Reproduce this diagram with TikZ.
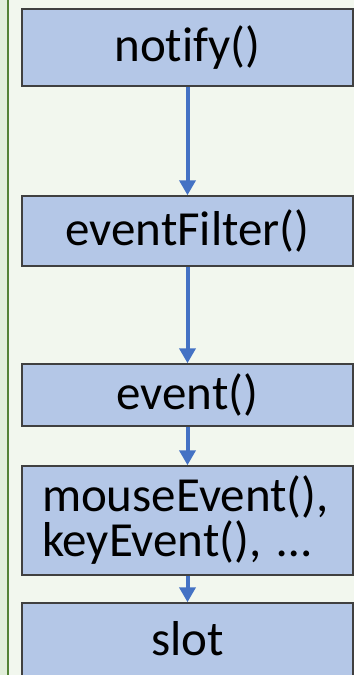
\documentclass[tikz,border=0pt]{standalone}
\usepackage{fontspec}
\setmainfont{Carlito}[Ligatures=NoCommon]
\usetikzlibrary{arrows.meta}
\definecolor{panelbg}{RGB}{242,247,238}
\definecolor{bandbg}{RGB}{226,239,218}
\definecolor{bandline}{RGB}{84,130,53}
\definecolor{boxfill}{RGB}{180,199,231}
\definecolor{boxline}{RGB}{64,64,64}
\definecolor{flow}{RGB}{68,114,196}
\tikzset{
  callbox/.style={draw=boxline, line width=1.5pt, fill=boxfill, minimum width=331pt,
    inner sep=0pt, font=\fontsize{49}{45}\selectfont},
  boxtext/.style={inner sep=0pt, font=\fontsize{49}{45}\selectfont},
  flowarrow/.style={draw=flow, line width=4pt, -{Triangle[width=16pt,length=15pt]}}
}
\begin{document}
\begin{tikzpicture}[x=1pt,y=-1pt]
  \useasboundingbox (0,0) rectangle (354,675);
  \clip (0,0) rectangle (354,675);
  % panel background with the green edge band on the left
  \fill[panelbg] (0,0) rectangle (354,675);
  \fill[bandbg] (0,0) rectangle (7,675);
  \draw[bandline, line width=2pt] (8,0) -- (8,675);

  % call chain boxes (the kern keeps "t" and "i" as separate glyphs)
  \node[callbox, minimum height=77pt] (notify) at (187.5,47.5) {not\kern0pt ify()};
  \node[callbox, minimum height=70pt] (filter) at (187.5,231) {eventFilter()};
  \node[callbox, minimum height=62pt] (event) at (187.5,395) {event()};
  \node[callbox, minimum height=109pt, align=left, text width=291pt] (handlers) at (187.5,520.5)
    {mouseEvent(),\\keyEvent(), \dots};
  % the last box runs past the lower edge, so its text sits above the centre
  \node[callbox, minimum height=104pt] (slot) at (187.5,655) {};
  \node[boxtext] (slottext) at (187.5,639) {slot};

  % arrows between the boxes
  \draw[flowarrow] (notify) -- (filter);
  \draw[flowarrow] (filter) -- (event);
  \draw[flowarrow] (event) -- (handlers);
  \draw[flowarrow] (handlers) -- (slot);
\end{tikzpicture}
\end{document}
